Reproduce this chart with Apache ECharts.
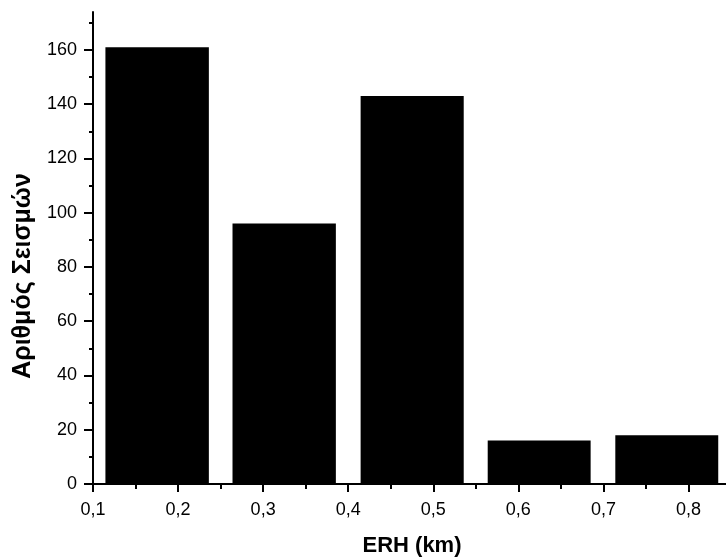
<!DOCTYPE html>
<html>
<head>
<meta charset="utf-8">
<script src="https://cdn.jsdelivr.net/npm/echarts@6.0.0/dist/echarts.min.js"></script>
<style>
  html, body { margin: 0; padding: 0; background: #fff; }
  #chart { width: 726px; height: 558px; }
</style>
</head>
<body>
<div id="chart"></div>
<script>
// histogram bins (ERH in km) and number of earthquakes
const binStart = [0.1146, 0.264, 0.4146, 0.564, 0.714];
const binEnd = [0.2362, 0.3855, 0.5358, 0.685, 0.835];
const counts = [161, 96, 143, 16, 18];

const xMajor = [0.1, 0.2, 0.3, 0.4, 0.5, 0.6, 0.7, 0.8];
const xMinor = [0.15, 0.25, 0.35, 0.45, 0.55, 0.65, 0.75, 0.85];
const yMajor = [0, 20, 40, 60, 80, 100, 120, 140, 160];
const yMinor = [10, 30, 50, 70, 90, 110, 130, 150, 170];

const FONT = 'Liberation Sans, Arial, sans-serif';

const myChart = echarts.init(document.getElementById('chart'));

const option = {
  animation: false,
  grid: {
    left: 93,
    top: 12,
    width: 638,
    height: 472,
    outerBoundsMode: 'none'
  },
  xAxis: [
    {
      type: 'value',
      min: 0.1,
      max: 0.85,
      name: 'ERH (km)',
      nameLocation: 'middle',
      nameGap: 51,
      nameTextStyle: { fontFamily: FONT, fontSize: 22, fontWeight: 'bold', color: '#000' },
      splitLine: { show: false },
      axisLine: { lineStyle: { color: '#000', width: 2 } },
      axisTick: { customValues: xMajor, length: 8, lineStyle: { color: '#000', width: 2 } },
      axisLabel: {
        customValues: xMajor,
        margin: 17,
        fontFamily: FONT,
        fontSize: 18,
        color: '#000',
        formatter: v => v.toFixed(1).replace('.', ',')
      }
    },
    {
      // minor ticks only
      type: 'value',
      min: 0.1,
      max: 0.85,
      position: 'bottom',
      splitLine: { show: false },
      axisLine: { show: false },
      axisTick: { customValues: xMinor, length: 5, lineStyle: { color: '#000', width: 2 } },
      axisLabel: { show: false }
    }
  ],
  yAxis: [
    {
      type: 'value',
      min: 0,
      max: 174,
      splitLine: { show: false },
      axisLine: { show: true, lineStyle: { color: '#000', width: 2 } },
      axisTick: { show: true, customValues: yMajor, length: 9, lineStyle: { color: '#000', width: 2 } },
      axisLabel: {
        customValues: yMajor,
        margin: 16,
        fontFamily: FONT,
        fontSize: 18,
        color: '#000'
      }
    },
    {
      // minor ticks only
      type: 'value',
      min: 0,
      max: 174,
      position: 'left',
      offset: 0,
      splitLine: { show: false },
      axisLine: { show: false },
      axisTick: { show: true, customValues: yMinor, length: 4, lineStyle: { color: '#000', width: 2 } },
      axisLabel: { show: false }
    }
  ],
  graphic: [
    {
      type: 'text',
      x: 23,
      y: 276,
      rotation: Math.PI / 2,
      style: {
        text: 'Αριθμός Σεισμών',
        fontFamily: FONT,
        fontSize: 25,
        fontWeight: 'bold',
        fill: '#000',
        align: 'center',
        verticalAlign: 'middle'
      }
    }
  ],
  series: [
    {
      type: 'custom',
      xAxisIndex: 0,
      yAxisIndex: 0,
      encode: { x: [0, 1], y: 2 },
      data: counts.map((c, i) => [binStart[i], binEnd[i], c]),
      renderItem: (params, api) => {
        const p0 = api.coord([api.value(0), api.value(2)]);
        const p1 = api.coord([api.value(1), 0]);
        return {
          type: 'rect',
          shape: { x: p0[0], y: p0[1], width: p1[0] - p0[0], height: p1[1] - p0[1] },
          style: { fill: '#000' }
        };
      }
    }
  ]
};

myChart.setOption(option);
</script>
</body>
</html>
